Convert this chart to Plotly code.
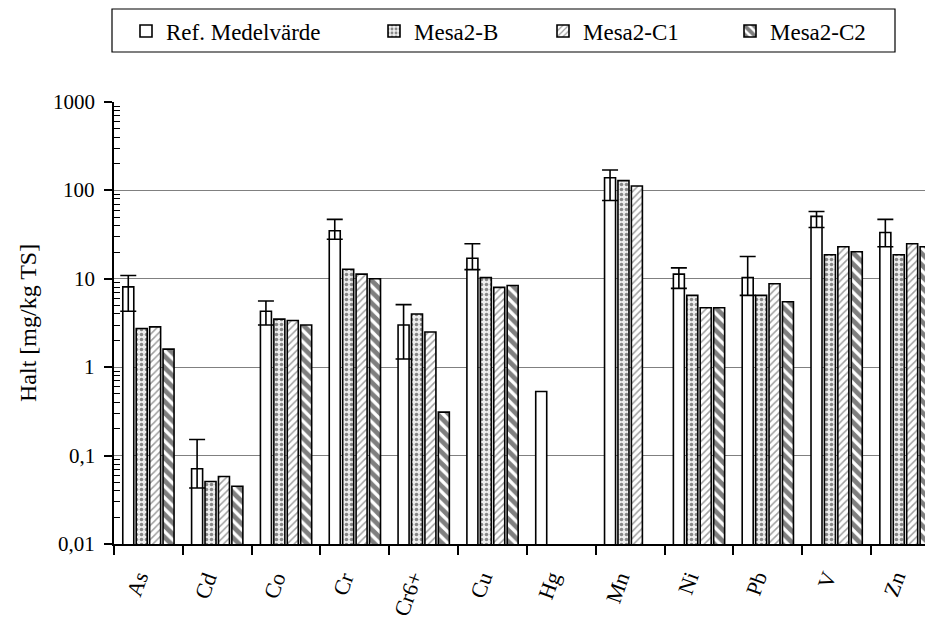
import math
import plotly.graph_objects as go

categories = ["As", "Cd", "Co", "Cr", "Cr6+", "Cu", "Hg", "Mn", "Ni", "Pb", "V", "Zn"]
ref_mean = [8.1, 0.071, 4.3, 35, 3.0, 17.1, 0.53, 139, 11.3, 10.3, 50.8, 33.4]
ref_high = [10.9, 0.152, 5.6, 47, 5.1, 24.9, None, 170, 13.3, 17.9, 57.8, 47]
ref_low = [4.3, 0.043, 3.0, 28, 1.24, 12.7, None, 77, 7.8, 6.5, 38.1, 23]
mesa2_b = [2.74, 0.051, 3.5, 12.8, 4.0, 10.3, None, 129, 6.5, 6.5, 18.7, 18.7]
mesa2_c1 = [2.86, 0.058, 3.37, 11.3, 2.5, 8.0, None, 112, 4.7, 8.8, 23, 24.9]
mesa2_c2 = [1.6, 0.045, 3.0, 10, 0.31, 8.4, None, None, 4.7, 5.5, 20.2, 23]

ytick_vals = [0.01, 0.1, 1, 10, 100, 1000]
ytick_text = ["0,01", "0,1", "1", "10", "100", "1000"]
minor_vals = [m * 10 ** e for e in range(-2, 3) for m in range(2, 10)]

err_y = [v if h is not None else None for v, h in zip(ref_mean, ref_high)]
err_plus = [None if h is None else h - v for h, v in zip(ref_high, ref_mean)]
err_minus = [None if l is None else v - l for l, v in zip(ref_low, ref_mean)]

FONT = "Liberation Serif"
line = dict(color="black", width=1.6)

fig = go.Figure()
fig.add_trace(go.Bar(
    name="Ref. Medelvärde", x=categories, y=ref_mean, legend="legend", offsetgroup="a",
    showlegend=True, marker=dict(color="white", line=line),
))
fig.add_trace(go.Bar(
    name="Mesa2-B", x=categories, y=mesa2_b, legend="legend2", offsetgroup="b", showlegend=True,
    marker=dict(color="white", line=line,
                pattern=dict(shape=".", fgcolor="#202020", bgcolor="#eeeeee", size=5, solidity=0.4)),
))
fig.add_trace(go.Bar(
    name="Mesa2-C1", x=categories, y=mesa2_c1, legend="legend3", offsetgroup="c", showlegend=True,
    marker=dict(color="white", line=line,
                pattern=dict(shape="/", fgcolor="#404040", bgcolor="white", size=5, solidity=0.3)),
))
fig.add_trace(go.Bar(
    name="Mesa2-C2", x=categories, y=mesa2_c2, legend="legend4", offsetgroup="d", showlegend=True,
    marker=dict(color="white", line=line,
                pattern=dict(shape="\\", fgcolor="black", bgcolor="white", size=8, solidity=0.6)),
))
fig.add_trace(go.Bar(
    name="err", x=categories, y=err_y, offsetgroup="a", showlegend=False, hoverinfo="skip",
    marker=dict(color="rgba(0,0,0,0)", line=dict(width=0)),
    error_y=dict(type="data", symmetric=False, array=err_plus, arrayminus=err_minus,
                 color="black", thickness=1.6, width=8),
))

OFF = 8
W, H = 933 - OFF, 621 - OFF
L = 114 - OFF
T = 102 - OFF
Bm = H - (544 - OFF)
R = 0
pw = W - L - R
ph = H - T - Bm

def px(x):
    return (x - OFF - L) / pw

def py(y):
    return (H - Bm - (y - OFF)) / ph

leg_common = dict(bgcolor="rgba(0,0,0,0)", borderwidth=0, font=dict(family="serif", size=23, color="black"),
                  xanchor="left", yanchor="middle", y=py(31), orientation="h")

annots = [dict(text="Halt [mg/kg TS]", xref="paper", yref="paper",
               x=px(28), y=0.5, textangle=-90, showarrow=False,
               xanchor="center", yanchor="middle",
               font=dict(family=FONT, size=24, color="black"))]
# y tick labels
for v, t in zip(ytick_vals, ytick_text):
    annots.append(dict(text=t, xref="paper", yref="y", x=px(97), y=math.log10(v),
                       showarrow=False, xanchor="right", yanchor="middle",
                       font=dict(family=FONT, size=21, color="black")))
# x tick labels
for c in categories:
    annots.append(dict(text=c, xref="x", yref="paper", x=c, y=py(566), xshift=7,
                       showarrow=False, xanchor="right", yanchor="top", textangle=-70,
                       font=dict(family=FONT, size=22, color="black")))

fig.update_layout(
    width=W, height=H, showlegend=True,
    margin=dict(l=L, r=R, t=T, b=Bm, autoexpand=False),
    paper_bgcolor="white", plot_bgcolor="white",
    barmode="group", bargap=0.22, bargroupgap=0.18,
    font=dict(family=FONT, size=21, color="black"),
    legend=dict(x=px(126), **leg_common),
    legend2=dict(x=px(374), **leg_common),
    legend3=dict(x=px(543), **leg_common),
    legend4=dict(x=px(730), **leg_common),
    xaxis=dict(
        range=[-0.5, 11.4], showline=True, linecolor="black", linewidth=1.5,
        ticks="outside", tickson="boundaries", ticklen=9, tickcolor="black", tickwidth=1.5,
        showticklabels=False, showgrid=False, automargin=False,
    ),
    yaxis=dict(
        type="log", range=[-2, 3], showline=True, linecolor="black", linewidth=1.5,
        tickmode="array", tickvals=ytick_vals,
        ticks="outside", ticklen=8, tickcolor="black", tickwidth=1.5, showticklabels=False,
        showgrid=True, gridcolor="#808080", gridwidth=1, zeroline=False, automargin=False,
        minor=dict(tickmode="array", tickvals=minor_vals, ticks="inside", ticklen=6,
                   tickcolor="black", tickwidth=1, showgrid=False),
    ),
    shapes=[dict(type="rect", xref="paper", yref="paper",
                 x0=px(112), x1=px(895), y0=py(52), y1=py(9),
                 line=dict(color="black", width=1.2), fillcolor="rgba(0,0,0,0)")],
    annotations=annots,
)

fig.write_html("out.html")
